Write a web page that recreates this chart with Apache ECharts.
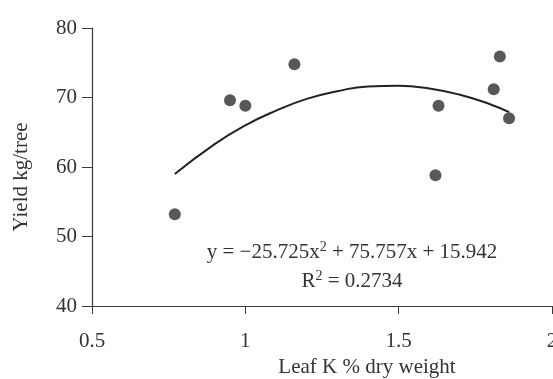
<!DOCTYPE html>
<html>
<head>
<meta charset="utf-8">
<script src="https://cdn.jsdelivr.net/npm/echarts@6/dist/echarts.min.js"></script>
<style>
  html, body { margin: 0; padding: 0; background: #fff; }
  #chart { width: 553px; height: 379px; }
</style>
</head>
<body>
<div id="chart"></div>
<script>
// leaf K (%) vs yield (kg/tree)
const leafK = [0.77, 0.95, 1.0, 1.16, 1.63, 1.62, 1.83, 1.81, 1.86];
const yieldKg = [53.2, 69.6, 68.8, 74.8, 68.8, 58.8, 75.9, 71.2, 67.0];

// points
const curveX = [0.77, 0.9, 1.0, 1.1, 1.2, 1.3, 1.4, 1.5, 1.6, 1.7, 1.8, 1.86];
const curveY = [59.0, 63.3, 66.0, 68.1, 69.8, 70.9, 71.6, 71.7, 71.3, 70.4, 69.0, 67.9];

const xTicks = [0.5, 1, 1.5, 2];
const yTicks = [40, 50, 60, 70, 80];

const serif = '"Liberation Serif", "DejaVu Serif", serif';
const ink = '#333';

let myChart = echarts.init(document.getElementById('chart'));
let option = {
  backgroundColor: '#fff',
  animation: false,
  grid: {
    left: 92,
    right: 1,
    top: 28,
    bottom: 73,
    outerBoundsMode: 'none',
  },
  xAxis: {
    type: 'value',
    min: xTicks[0],
    max: xTicks[xTicks.length - 1],
    interval: 0.5,
    name: 'Leaf K % dry weight',
    nameLocation: 'middle',
    nameGap: 46,
    nameTextStyle: {
      fontFamily: serif,
      fontSize: 21,
      color: ink,
      padding: [0, 0, 0, 90],
    },
    axisLine: { show: true, lineStyle: { color: '#3a3a3a', width: 1.2 } },
    axisTick: { show: true, length: 8, lineStyle: { color: '#3a3a3a' } },
    splitLine: { show: false },
    axisLabel: {
      margin: 25,
      fontFamily: serif,
      fontSize: 21,
      color: ink,
      showMaxLabel: true,
      formatter: (v) => String(v),
    },
  },
  yAxis: {
    type: 'value',
    min: yTicks[0],
    max: yTicks[yTicks.length - 1],
    interval: 10,
    name: 'Yield kg/tree',
    nameLocation: 'middle',
    nameGap: 60,
    nameTextStyle: {
      fontFamily: serif,
      fontSize: 21,
      color: ink,
      padding: [0, 20, 0, 0],
    },
    axisLine: { show: true, lineStyle: { color: '#3a3a3a', width: 1.2 } },
    axisTick: { show: true, length: 10, lineStyle: { color: '#3a3a3a' } },
    splitLine: { show: false },
    axisLabel: {
      margin: 15,
      fontFamily: serif,
      fontSize: 21,
      color: ink,
    },
  },
  graphic: [
    {
      type: 'text',
      x: 352,
      y: 252,
      style: {
        text: '{n|y = \u221225.725x}{s|2}{n| + 75.757x + 15.942}',
        align: 'center',
        verticalAlign: 'middle',
        rich: {
          n: { fontFamily: serif, fontSize: 21, fill: ink, color: ink },
          s: { fontFamily: serif, fontSize: 14, fill: ink, color: ink, padding: [0, 0, 10, 0] },
        },
      },
    },
    {
      type: 'text',
      x: 352,
      y: 281,
      style: {
        text: '{n|R}{s|2}{n| = 0.2734}',
        align: 'center',
        verticalAlign: 'middle',
        rich: {
          n: { fontFamily: serif, fontSize: 21, fill: ink, color: ink },
          s: { fontFamily: serif, fontSize: 14, fill: ink, color: ink, padding: [0, 0, 10, 0] },
        },
      },
    },
  ],
  series: [
    {
      name: 'trend',
      type: 'line',
      smooth: true,
      showSymbol: false,
      data: curveX.map((x, i) => [x, curveY[i]]),
      lineStyle: { color: '#222', width: 2 },
      z: 2,
    },
    {
      name: 'yield',
      type: 'scatter',
      symbol: 'circle',
      symbolSize: 12,
      data: leafK.map((x, i) => [x, yieldKg[i]]),
      itemStyle: { color: '#2e2e2e' },
      z: 3,
    },
  ],
};
myChart.setOption(option, true);
</script>
</body>
</html>
